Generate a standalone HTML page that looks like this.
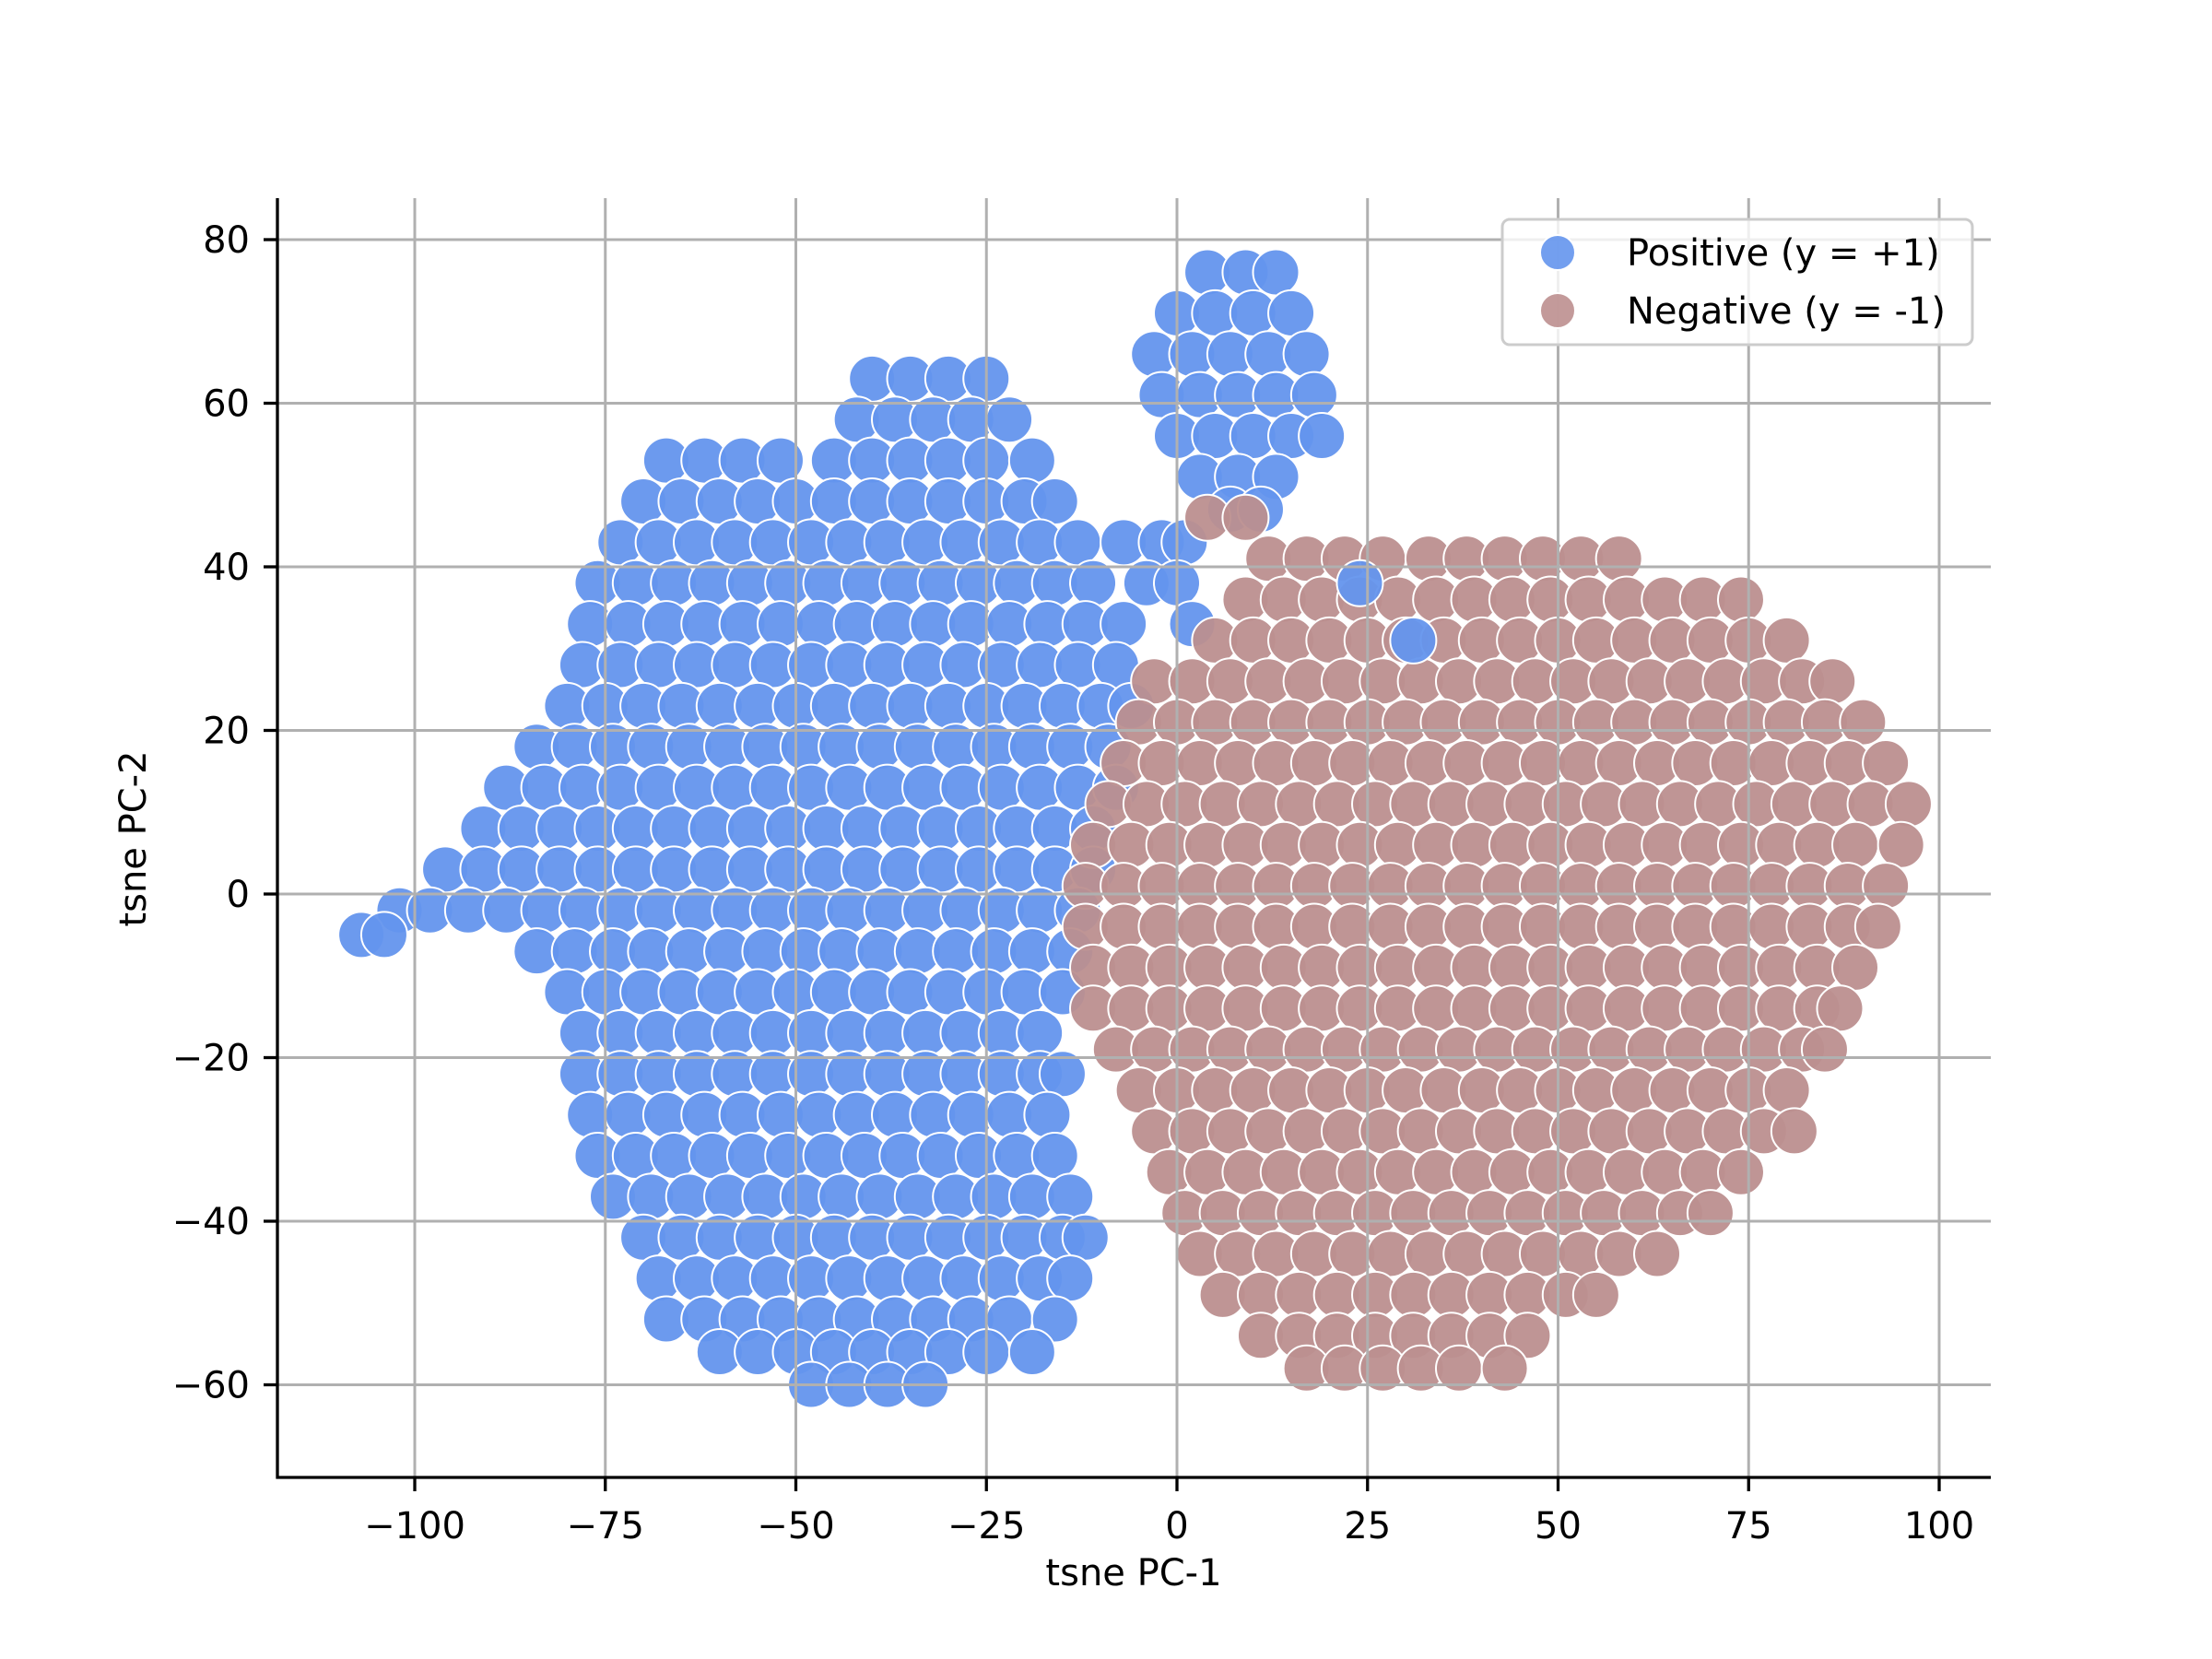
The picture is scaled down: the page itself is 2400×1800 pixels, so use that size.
<!DOCTYPE html>
<html><head><meta charset="utf-8">
<style>
html,body{margin:0;padding:0;background:#fff;}
svg{display:block;font-family:"DejaVu Sans","Liberation Sans",sans-serif;}
</style></head>
<body>
<svg id="chart" width="2400" height="1800" viewBox="0 0 2400 1800" xmlns="http://www.w3.org/2000/svg">
<rect x="0" y="0" width="2400" height="1800" fill="#ffffff"/>
<g id="points"></g>
<g id="grid"></g>
<g id="axes"></g>
<text x="1230" y="1720" font-size="40" text-anchor="middle" fill="#000">tsne PC-1</text>
<text x="0" y="0" font-size="40" text-anchor="middle" fill="#000" transform="translate(158,910) rotate(-90)">tsne PC-2</text>
<g>
<rect x="1630" y="238" width="510" height="136" rx="8" fill="#fff" fill-opacity="0.8" stroke="#cccccc" stroke-width="3"/>
<g>
<circle cx="1690" cy="274" r="19" fill="#6495ED" fill-opacity="0.9" stroke="#fff" stroke-width="2"/>
<text x="1765" y="288" font-size="40" fill="#000">Positive (y = +1)</text>
</g>
<g>
<circle cx="1690" cy="337" r="19" fill="#BC8F8F" fill-opacity="0.9" stroke="#fff" stroke-width="2"/>
<text x="1765" y="351" font-size="40" fill="#000">Negative (y = -1)</text>
</g>
</g>
</svg>
<script>
// ---- data (rows: "y: x x x ...") ----
const positiveRows = [
"63: -40 -35 -30 -25",
"58: -42 -37 -32 -27 -22",
"53: -67 -62 -57 -52 -45 -40 -35 -30 -25 -19",
"48: -70 -65 -60 -55 -50 -45 -40 -35 -30 -25 -20 -16",
"43: -73 -68 -63 -58 -53 -48 -43 -38 -33 -28 -23 -18 -13 -7 -2 1",
"38: -76 -71 -66 -61 -56 -51 -46 -41 -36 -31 -26 -21 -16 -11 -4 0",
"33: -77 -72 -67 -62 -57 -52 -47 -42 -37 -32 -27 -22 -17 -12 -7 2",
"28: -78 -73 -68 -63 -58 -53 -48 -43 -38 -33 -28 -23 -18 -13 -8",
"23: -80 -75 -70 -65 -60 -55 -50 -45 -40 -35 -30 -25 -20 -15 -10 -6",
"18: -84 -79 -74 -69 -64 -59 -54 -49 -44 -39 -34 -29 -24 -19 -14 -9",
"13: -88 -83 -78 -73 -68 -63 -58 -53 -48 -43 -38 -33 -28 -23 -18 -13 -8",
"8: -91 -86 -81 -76 -71 -66 -61 -56 -51 -46 -41 -36 -31 -26 -21 -16 -11",
"3: -96 -91 -86 -81 -76 -71 -66 -61 -56 -51 -46 -41 -36 -31 -26 -21 -16 -11",
"-2: -102 -98 -93 -88 -83 -78 -73 -68 -63 -58 -53 -48 -43 -38 -33 -28 -23 -18 -13",
"-5: -107 -104",
"-7: -84 -79 -74 -69 -64 -59 -54 -49 -44 -39 -34 -29 -24 -19 -14",
"-12: -80 -75 -70 -65 -60 -55 -50 -45 -40 -35 -30 -25 -20 -15",
"-17: -78 -73 -68 -63 -58 -53 -48 -43 -38 -33 -28 -23 -18",
"-22: -78 -73 -68 -63 -58 -53 -48 -43 -38 -33 -28 -23 -18 -15",
"-27: -77 -72 -67 -62 -57 -52 -47 -42 -37 -32 -27 -22 -17",
"-32: -76 -71 -66 -61 -56 -51 -46 -41 -36 -31 -26 -21 -16",
"-37: -74 -69 -64 -59 -54 -49 -44 -39 -34 -29 -24 -19 -14",
"-42: -70 -65 -60 -55 -50 -45 -40 -35 -30 -25 -20 -15 -12",
"-47: -68 -63 -58 -53 -48 -43 -38 -33 -28 -23 -18 -14",
"-52: -67 -62 -57 -52 -47 -42 -37 -32 -27 -22 -16",
"-56: -60 -55 -50 -45 -40 -35 -30 -25 -19",
"-60: -48 -43 -38 -33",
"76: 4 9 13",
"71: 0 5 10 15",
"66: -3 2 7 12 17",
"61: -2 3 8 13 18",
"56: 0 5 10 15 19",
"51: 3 8 13",
"47: 7 11"
];
const negativeRows = [
"46: 4 9",
"41: 12 17 22 27 33 38 43 48 53 58",
"36: 9 14 19 24 29 34 39 44 49 54 59 64 69 74",
"31: 5 10 15 20 25 30 35 40 45 50 55 60 65 70 75 80",
"26: -3 2 7 12 17 22 27 32 37 42 47 52 57 62 67 72 77 82 86",
"21: -5 0 5 10 15 20 25 30 35 40 45 50 55 60 65 70 75 80 85 90",
"16: -7 -2 3 8 13 18 23 28 33 38 43 48 53 58 63 68 73 78 83 88 93",
"11: -9 -4 1 6 11 16 21 26 31 36 41 46 51 56 61 66 71 76 81 86 91 96",
"6: -11 -6 -1 4 9 14 19 24 29 34 39 44 49 54 59 64 69 74 79 84 89 95",
"1: -12 -7 -2 3 8 13 18 23 28 33 38 43 48 53 58 63 68 73 78 83 88 93",
"-4: -12 -7 -2 3 8 13 18 23 28 33 38 43 48 53 58 63 68 73 78 83 88 92",
"-9: -11 -6 -1 4 9 14 19 24 29 34 39 44 49 54 59 64 69 74 79 84 89",
"-14: -11 -6 -1 4 9 14 19 24 29 34 39 44 49 54 59 64 69 74 79 84 87",
"-19: -8 -3 2 7 12 17 22 27 32 37 42 47 52 57 62 67 72 77 82 85",
"-24: -5 0 5 10 15 20 25 30 35 40 45 50 55 60 65 70 75 80",
"-29: -3 2 7 12 17 22 27 32 37 42 47 52 57 62 67 72 77 81",
"-34: -1 4 9 14 19 24 29 34 39 44 49 54 59 64 69 74",
"-39: 1 6 11 16 21 26 31 36 41 46 51 56 61 66 70",
"-44: 3 8 13 18 23 28 33 38 43 48 53 58 63",
"-49: 6 11 16 21 26 31 36 41 46 51 55",
"-54: 11 16 21 26 31 36 41 46",
"-58: 17 22 27 32 37 43"
];
const strayPositiveRows = [
"38: 24",
"31: 31"
];
const xTicks = [-100, -75, -50, -25, 0, 25, 50, 75, 100];
const yTicks = [-60, -40, -20, 0, 20, 40, 60, 80];

// ---- axis functions ----
const X0 = 1277, XS = 8.27;   // pixel of x=0, px per unit
const Y0 = 970, YS = 8.875;   // pixel of y=0, px per unit
const AX_L = 301, AX_R = 2160, AX_T = 215, AX_B = 1603;
function sx(v){ return X0 + v * XS; }
function sy(v){ return Y0 - v * YS; }

const NS = "http://www.w3.org/2000/svg";
function parseRows(rows){
  const out = [];
  rows.forEach(r => {
    const [yStr, xs] = r.split(":");
    const y = parseFloat(yStr);
    xs.trim().split(/\s+/).forEach(x => out.push([parseFloat(x), y]));
  });
  return out;
}
const pts = document.getElementById("points");
function drawSeries(rows, color, name){
  const g = document.createElementNS(NS, "g");
  
  
  parseRows(rows).forEach(p => {
    const c = document.createElementNS(NS, "circle");
    c.setAttribute("cx", sx(p[0]));
    c.setAttribute("cy", sy(p[1]));
    c.setAttribute("r", 25);
    c.setAttribute("fill", color);
    c.setAttribute("fill-opacity", "0.95");
    c.setAttribute("stroke", "#ffffff");
    c.setAttribute("stroke-width", "2");
    
    
    g.appendChild(c);
  });
  pts.appendChild(g);
}
drawSeries(positiveRows, "#6495ED", "positive-series");
drawSeries(negativeRows, "#BC8F8F", "negative-series");
drawSeries(strayPositiveRows, "#6495ED", "positive-series-outliers");

// grid
const grid = document.getElementById("grid");
xTicks.forEach(t => {
  const l = document.createElementNS(NS, "line");
  l.setAttribute("x1", sx(t)); l.setAttribute("x2", sx(t));
  l.setAttribute("y1", AX_T); l.setAttribute("y2", AX_B);
  l.setAttribute("stroke", "#b0b0b0"); l.setAttribute("stroke-width", "3");
  
  
  grid.appendChild(l);
});
yTicks.forEach(t => {
  const l = document.createElementNS(NS, "line");
  l.setAttribute("x1", AX_L); l.setAttribute("x2", AX_R);
  l.setAttribute("y1", sy(t)); l.setAttribute("y2", sy(t));
  l.setAttribute("stroke", "#b0b0b0"); l.setAttribute("stroke-width", "3");
  
  
  grid.appendChild(l);
});

// axes
const axes = document.getElementById("axes");
function fmt(v){ return v < 0 ? "\u2212" + Math.abs(v) : String(v); }
const sp1 = document.createElementNS(NS, "line");
sp1.setAttribute("x1", AX_L); sp1.setAttribute("x2", AX_L);
sp1.setAttribute("y1", AX_T); sp1.setAttribute("y2", AX_B + 1.5);
sp1.setAttribute("stroke", "#000"); sp1.setAttribute("stroke-width", "3.3");


axes.appendChild(sp1);
const sp2 = document.createElementNS(NS, "line");
sp2.setAttribute("x1", AX_L - 1.5); sp2.setAttribute("x2", AX_R);
sp2.setAttribute("y1", AX_B); sp2.setAttribute("y2", AX_B);
sp2.setAttribute("stroke", "#000"); sp2.setAttribute("stroke-width", "3.3");


axes.appendChild(sp2);
xTicks.forEach(t => {
  const l = document.createElementNS(NS, "line");
  l.setAttribute("x1", sx(t)); l.setAttribute("x2", sx(t));
  l.setAttribute("y1", AX_B); l.setAttribute("y2", AX_B + 15);
  l.setAttribute("stroke", "#000"); l.setAttribute("stroke-width", "3.3");
  
  
  axes.appendChild(l);
  const tx = document.createElementNS(NS, "text");
  tx.setAttribute("x", sx(t)); tx.setAttribute("y", AX_B + 66);
  tx.setAttribute("font-size", "40"); tx.setAttribute("text-anchor", "middle");
  tx.textContent = fmt(t);
  
  
  axes.appendChild(tx);
});
yTicks.forEach(t => {
  const l = document.createElementNS(NS, "line");
  l.setAttribute("x1", AX_L - 15); l.setAttribute("x2", AX_L);
  l.setAttribute("y1", sy(t)); l.setAttribute("y2", sy(t));
  l.setAttribute("stroke", "#000"); l.setAttribute("stroke-width", "3.3");
  
  
  axes.appendChild(l);
  const tx = document.createElementNS(NS, "text");
  tx.setAttribute("x", AX_L - 30); tx.setAttribute("y", sy(t) + 14);
  tx.setAttribute("font-size", "40"); tx.setAttribute("text-anchor", "end");
  tx.textContent = fmt(t);
  
  
  axes.appendChild(tx);
});
</script>
</body></html>
